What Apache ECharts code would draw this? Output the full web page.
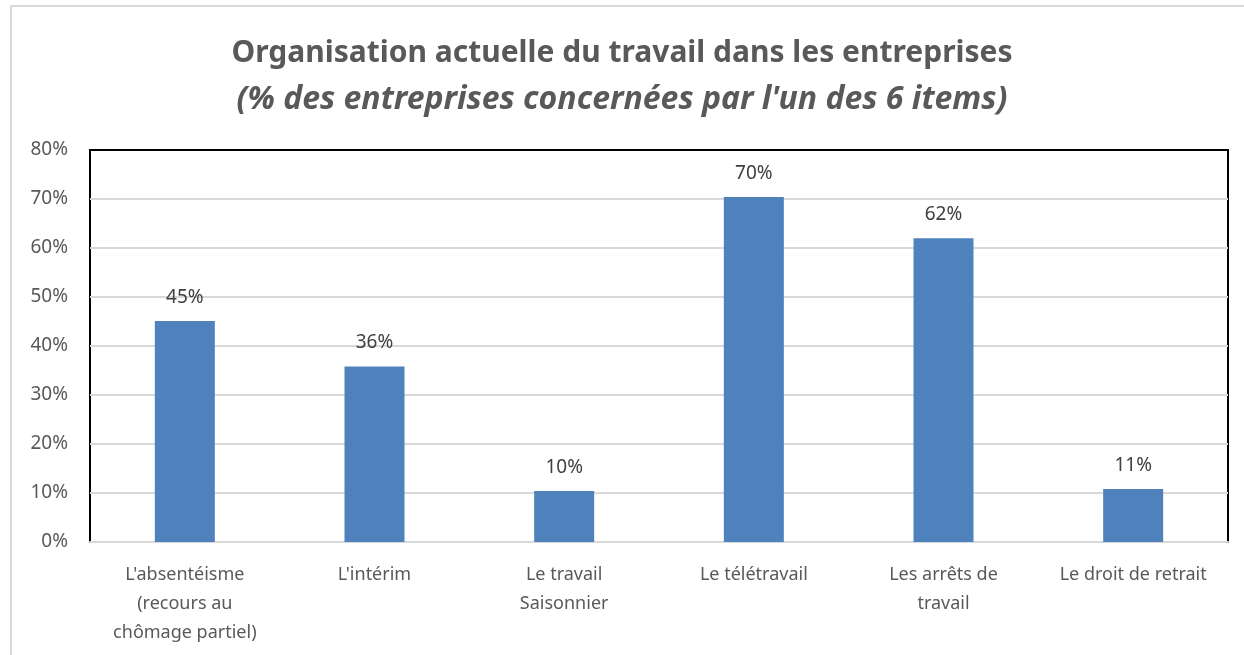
<!DOCTYPE html>
<html>
<head>
<meta charset="utf-8">
<script src="https://cdn.jsdelivr.net/npm/echarts@6/dist/echarts.min.js"></script>
<style>
  html, body { margin: 0; padding: 0; background: #fff; }
  #frame { position: absolute; left: 10px; top: 5px; width: 1240px; height: 660px;
           border-left: 2px solid #d9d9d9; border-top: 2px solid #d9d9d9; }
  #chart { position: absolute; left: 0; top: 0; width: 1244px; height: 655px; }
</style>
</head>
<body>
<div id="frame"></div>
<div id="chart"></div>
<script>
// categories and values (% of companies)
const categories = [
  "L'absentéisme\n(recours au\nchômage partiel)",
  "L'intérim",
  "Le travail\nSaisonnier",
  "Le télétravail",
  "Les arrêts de\ntravail",
  "Le droit de retrait"
]
const values = [45.1, 35.8, 10.4, 70.4, 62.0, 10.8]

const font = 'Noto Sans'
const grey = '#595959'

const chart = echarts.init(document.getElementById('chart'))

const option = {
  animation: false,
  title: {
    text: 'Organisation actuelle du travail dans les entreprises',
    subtext: "(% des entreprises concernées par l'un des 6 items)",
    left: 'center',
    top: 33,
    itemGap: 16,
    textStyle: { fontFamily: font, fontSize: 30, fontWeight: 'bold', color: grey },
    subtextStyle: { fontFamily: font, fontSize: 32, fontWeight: 'bold', fontStyle: 'italic', color: grey }
  },
  grid: {
    left: 90, right: 16, top: 150, bottom: 113,
    show: true, borderColor: '#000', borderWidth: 2
  },
  xAxis: {
    type: 'category',
    data: categories,
    axisTick: { show: false },
    axisLine: { lineStyle: { color: '#d9d9d9', width: 2 } },
    axisLabel: { interval: 0, margin: 18, lineHeight: 29, fontFamily: font, fontSize: 18, color: grey }
  },
  yAxis: {
    type: 'value',
    min: 0, max: 80, interval: 10,
    axisLine: { show: false },
    axisTick: { show: false },
    splitLine: { showMaxLine: false, lineStyle: { color: '#d9d9d9', width: 2 } },
    axisLabel: { formatter: '{value}%', margin: 22, fontFamily: font, fontSize: 19, color: grey }
  },
  series: [{
    type: 'bar',
    data: values,
    barWidth: 60,
    itemStyle: { color: '#4f81bd' },
    label: {
      show: true, position: 'top', distance: 14,
      formatter: p => Math.round(p.value) + '%',
      fontFamily: font, fontSize: 19, color: '#404040'
    }
  }]
}

chart.setOption(option)
</script>
</body>
</html>
